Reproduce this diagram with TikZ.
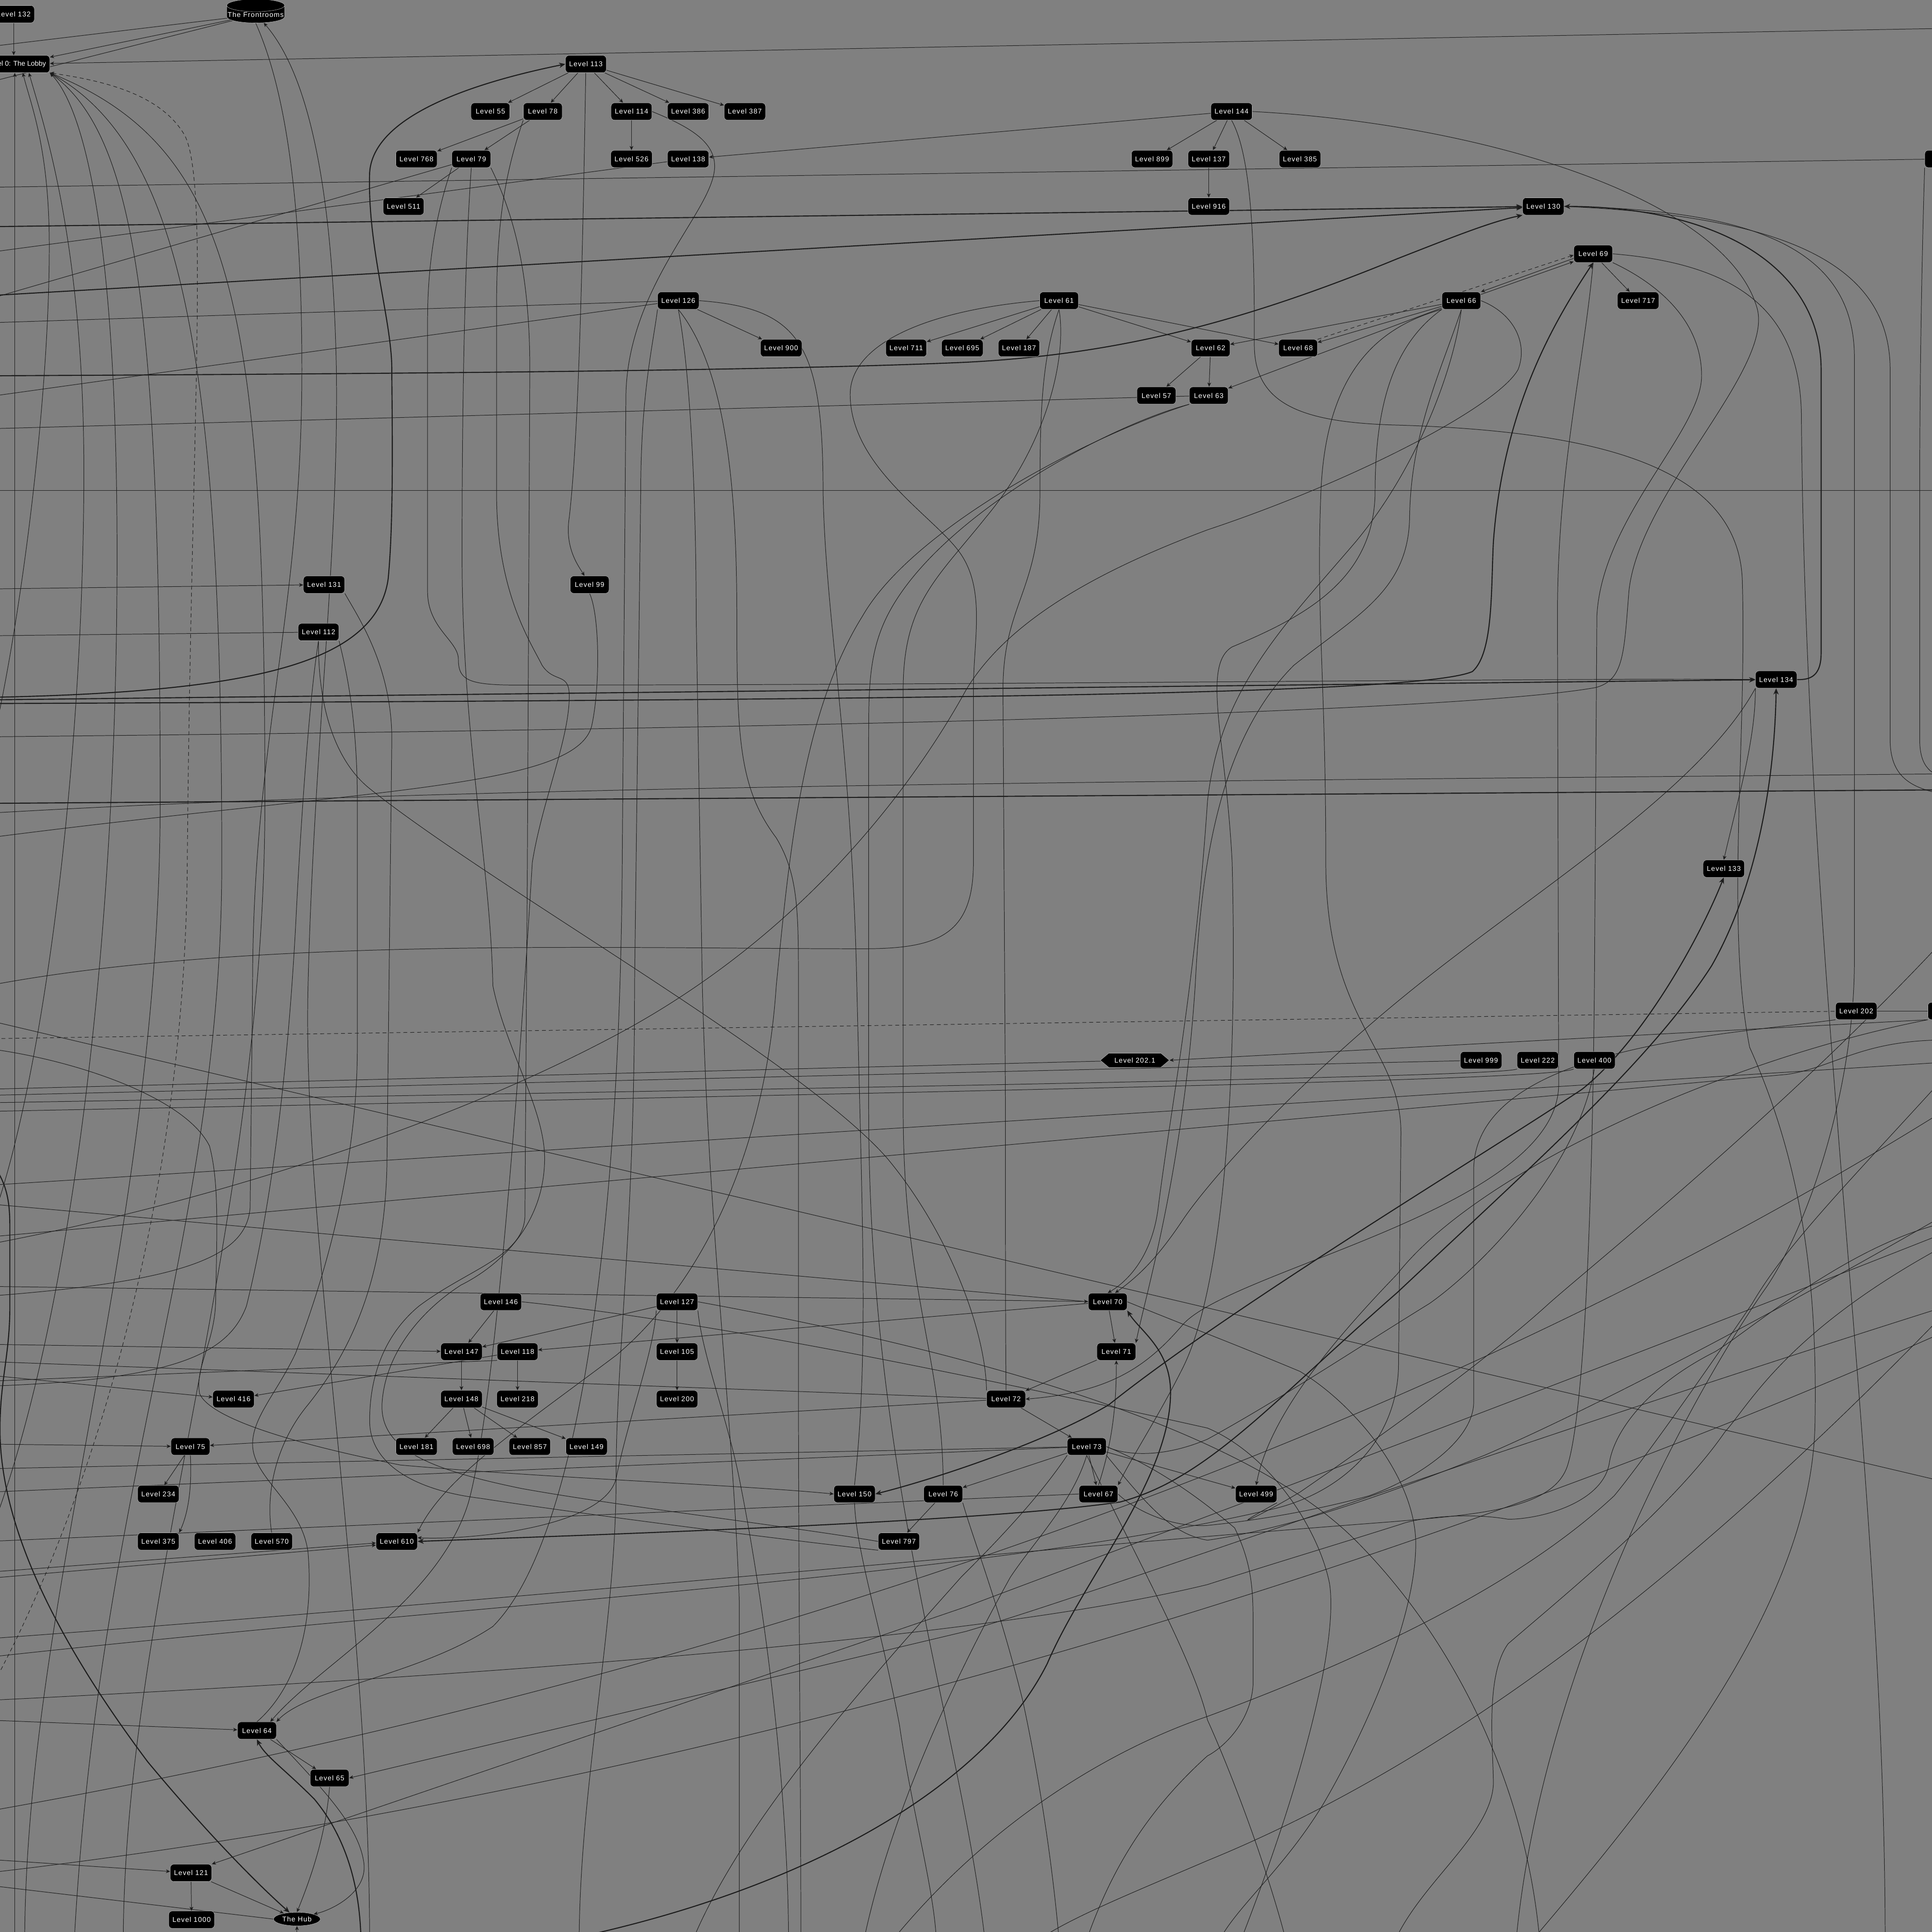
\documentclass[tikz,border=0pt]{standalone}
\usepackage{fontspec}
\setmainfont{Liberation Sans}
\newfontfamily\boxfont[LetterSpace=8]{Liberation Sans}
\usetikzlibrary{arrows.meta,shapes.geometric,shapes.symbols,backgrounds}

\definecolor{bg}{HTML}{808080}
\definecolor{rim}{HTML}{B4B4B4}
\definecolor{wire}{HTML}{1C1C1C}

\tikzset{
  lvl/.style={draw=rim, fill=black, text=white, rounded corners=2.8mm, minimum width=3.15cm, minimum height=1.4cm, inner xsep=3mm, line width=0.7pt, font=\boxfont\fontsize{16}{19}\selectfont},
  hub/.style={ellipse, draw=rim, fill=black, text=white, minimum width=3.8cm, minimum height=1.1cm, inner sep=0pt, line width=0.7pt, font=\boxfont\fontsize{16}{19}\selectfont},
  db/.style={cylinder, shape border rotate=90, aspect=0.22, draw=rim, fill=black, text=white, minimum width=4.7cm, minimum height=1.75cm, inner sep=1pt, line width=0.7pt, font=\boxfont\fontsize{16}{19}\selectfont},
  hexa/.style={signal, signal to=east and west, signal pointer angle=80, draw=rim, fill=black, text=white, minimum width=5.6cm, minimum height=1.15cm, inner sep=1pt, line width=0.7pt, font=\boxfont\fontsize{16}{19}\selectfont},
  ln/.style={draw=wire, line width=1.1pt},
  tk/.style={draw=wire, line width=2.4pt, >={Stealth[length=5mm,width=4.2mm,inset=1.5mm]}},
  dsh/.style={ln, dash pattern=on 9pt off 7pt},
}

\begin{document}
\begin{tikzpicture}[x=1mm, y=-1mm, >={Stealth[length=3.4mm,width=3mm,inset=1mm]}]
\useasboundingbox (0,0) rectangle (1568,1568);
% Nodes:
\node[lvl, anchor=east] (L132) at (28,11.5) {Level 132};
\node[db] (Fr) at (207.5,12) {The Frontrooms};
\node[lvl, anchor=east, font=\fontsize{16}{19}\selectfont] (L0) at (40.5,52) {Level 0: The Lobby};
\node[lvl] (L113) at (475.5,52) {Level 113};
\node[lvl] (L55) at (398,90.5) {Level 55};
\node[lvl] (L78) at (440.5,90.5) {Level 78};
\node[lvl] (L114) at (512.5,90.5) {Level 114};
\node[lvl] (L386) at (558.5,90.5) {Level 386};
\node[lvl] (L387) at (604.5,90.5) {Level 387};
\node[lvl] (L768) at (338,129) {Level 768};
\node[lvl] (L79) at (382.5,129) {Level 79};
\node[lvl] (L526) at (512.5,129) {Level 526};
\node[lvl] (L138) at (558.5,129) {Level 138};
\node[lvl] (L511) at (327.5,167.5) {Level 511};
\node[lvl] (L144) at (999.5,90.5) {Level 144};
\node[lvl] (L899) at (935,129) {Level 899};
\node[lvl] (L137) at (981,129) {Level 137};
\node[lvl] (L385) at (1055,129) {Level 385};
\node[lvl] (L916) at (981,167.5) {Level 916};
\node[lvl, anchor=west] (Lr1) at (1562,129) {Level};
\node[lvl] (L130) at (1252.5,167.5) {Level 130};
\node[lvl] (L69) at (1293,206) {Level 69};
\node[lvl] (L717) at (1329.5,244) {Level 717};
\node[lvl] (L66) at (1186,244) {Level 66};
\node[lvl] (L126) at (550.5,244) {Level 126};
\node[lvl] (L61) at (859.5,244) {Level 61};
\node[lvl] (L900) at (634,282.5) {Level 900};
\node[lvl] (L711) at (735.5,282.5) {Level 711};
\node[lvl] (L695) at (781,282.5) {Level 695};
\node[lvl] (L187) at (827,282.5) {Level 187};
\node[lvl] (L62) at (982.5,282.5) {Level 62};
\node[lvl] (L68) at (1053.5,282.5) {Level 68};
\node[lvl] (L57) at (938.5,321) {Level 57};
\node[lvl] (L63) at (981,321) {Level 63};
\node[lvl] (L131) at (263,474.5) {Level 131};
\node[lvl] (L99) at (478.5,474.5) {Level 99};
\node[lvl] (L112) at (258.5,513) {Level 112};
\node[lvl] (L134) at (1441.5,551.5) {Level 134};
\node[lvl] (L133) at (1399,705) {Level 133};
\node[lvl] (L202) at (1506.5,820.5) {Level 202};
\node[lvl, anchor=west] (Lr2) at (1564.5,820.5) {Level};
\node[hexa] (Lh) at (921,860.5) {Level 202.1};
\node[lvl] (L999) at (1202,860.5) {Level 999};
\node[lvl] (L222) at (1248,860.5) {Level 222};
\node[lvl] (L400) at (1294,860.5) {Level 400};
\node[lvl] (L146) at (406.5,1056.5) {Level 146};
\node[lvl] (L127) at (549.5,1056.5) {Level 127};
\node[lvl] (L70) at (899,1056.5) {Level 70};
\node[lvl] (L147) at (374.5,1097) {Level 147};
\node[lvl] (L118) at (420,1097) {Level 118};
\node[lvl] (L105) at (549.5,1097) {Level 105};
\node[lvl] (L71) at (906,1097) {Level 71};
\node[lvl] (L416) at (189.5,1135.5) {Level 416};
\node[lvl] (L148) at (374.5,1135.5) {Level 148};
\node[lvl] (L218) at (420,1135.5) {Level 218};
\node[lvl] (L200) at (549.5,1135.5) {Level 200};
\node[lvl] (L72) at (816.5,1135.5) {Level 72};
\node[lvl] (L75) at (154.5,1174) {Level 75};
\node[lvl] (L181) at (338,1174) {Level 181};
\node[lvl] (L698) at (384,1174) {Level 698};
\node[lvl] (L857) at (430,1174) {Level 857};
\node[lvl] (L149) at (476,1174) {Level 149};
\node[lvl] (L73) at (882,1174) {Level 73};
\node[lvl] (L234) at (128.5,1212.5) {Level 234};
\node[lvl] (L150) at (693.5,1212.5) {Level 150};
\node[lvl] (L76) at (765.5,1212.5) {Level 76};
\node[lvl] (L67) at (891.5,1212.5) {Level 67};
\node[lvl] (L499) at (1019.5,1212.5) {Level 499};
\node[lvl] (L375) at (128.5,1251) {Level 375};
\node[lvl] (L406) at (174.5,1251) {Level 406};
\node[lvl] (L570) at (220.5,1251) {Level 570};
\node[lvl] (L610) at (322,1251) {Level 610};
\node[lvl] (L797) at (729.5,1251) {Level 797};
\node[lvl] (L64) at (208.5,1404.5) {Level 64};
\node[lvl] (L65) at (267.5,1443) {Level 65};
\node[lvl] (L121) at (155,1520) {Level 121};
\node[lvl] (L1000) at (155.5,1558) {Level 1000};
\node[hub] (Hub) at (241,1557.5) {The Hub};
% Free ends outside the frame:
\coordinate (w38) at (-10,38);   \coordinate (w67) at (-10,67);   \coordinate (e23) at (1580,23);
\coordinate (s12) at (12,1580);  \coordinate (w620) at (-10,620); \coordinate (w1000) at (-10,1000);
\coordinate (w1250) at (-10,1250); \coordinate (s20) at (20,1580); \coordinate (s60) at (60,1580);
\coordinate (s100) at (100,1580); \coordinate (w1375) at (-10,1375); \coordinate (w566) at (-10,566);
\coordinate (w152) at (-10,152); \coordinate (w205) at (-10,205);
\coordinate (w243) at (-10,243); \coordinate (w184) at (-10,184); \coordinate (w240) at (-10,240);
\coordinate (w305) at (-10,305); \coordinate (w262) at (-10,262); \coordinate (w322) at (-10,322);
\coordinate (w348) at (-10,348); \coordinate (w398) at (-10,398); \coordinate (e398) at (1580,398);
\coordinate (w478) at (-10,478); \coordinate (w516) at (-10,516); \coordinate (w568) at (-10,568);
\coordinate (w571) at (-10,571); \coordinate (w598) at (-10,598); \coordinate (s1239) at (1239,1580);
\coordinate (s1230) at (1230,1580); \coordinate (e645) at (1580,645); \coordinate (w1330) at (-10,1330);
\coordinate (s1530) at (1530,1580); \coordinate (w800) at (-10,800); \coordinate (s800) at (800,1580);
\coordinate (w1345) at (-10,1345); \coordinate (w1010) at (-10,1010); \coordinate (w1052) at (-10,1052);
\coordinate (s470) at (470,1580); \coordinate (s600) at (600,1580); \coordinate (s650) at (650,1580);
\coordinate (w680) at (-10,680); \coordinate (s300) at (300,1580); \coordinate (w1044) at (-10,1044);
\coordinate (w1091) at (-10,1091); \coordinate (w1116) at (-10,1116); \coordinate (w1105) at (-10,1105);
\coordinate (w1174) at (-10,1172); \coordinate (s1250) at (1250,1580); \coordinate (s640) at (640,1580);
\coordinate (s430) at (430,1580); \coordinate (w1192) at (-10,1192);
\coordinate (w1211) at (-10,1211); \coordinate (s560) at (560,1580); \coordinate (s700) at (700,1580);
\coordinate (s860) at (860,1580); \coordinate (s760) at (760,1580);
\coordinate (w1251) at (-10,1251); \coordinate (w851) at (-10,851); \coordinate (w843) at (-10,843);
\coordinate (w884) at (-10,884); \coordinate (w886) at (-10,889); \coordinate (w893) at (-10,895);
\coordinate (w900) at (-10,902); \coordinate (e844) at (1580,844); \coordinate (w1004) at (-10,1004);
\coordinate (e860) at (1580,862); \coordinate (w962) at (-10,962); \coordinate (w940) at (-10,940);
\coordinate (w1276) at (-10,1276); \coordinate (w1281) at (-10,1281); \coordinate (w1396) at (-10,1396);
\coordinate (e1060) at (1580,1060); \coordinate (e1000) at (1580,1000); \coordinate (s293) at (293,1580);
\coordinate (w1509) at (-10,1509); \coordinate (w1530) at (-10,1530); \coordinate (s241) at (241,1580);
\coordinate (w1470) at (-10,1470); \coordinate (e900) at (1580,900); \coordinate (w1520) at (-10,1520);
\coordinate (e1080) at (1580,1080); \coordinate (w828) at (-10,828); \coordinate (e1203) at (1580,1203);
\coordinate (e628) at (1580,628); \coordinate (w660) at (-10,660); \coordinate (w1121) at (-10,1121);
\coordinate (w652) at (-10,652); \coordinate (e641) at (1580,641); \coordinate (e632) at (1580,632);
\coordinate (e1064) at (1580,1064); \coordinate (s835) at (835,1580); \coordinate (e1010) at (1580,1010);
\coordinate (s1130) at (1130,1580); \coordinate (e870) at (1580,872); \coordinate (s720) at (720,1580);
\coordinate (e985) at (1580,985); \coordinate (s880) at (880,1580); \coordinate (s987) at (987,1580);
\coordinate (s1003) at (1005,1580); \coordinate (s1045) at (1045,1580); \coordinate (e760) at (1580,760);
\coordinate (e990) at (1580,992); \coordinate (w1380) at (-10,1380); \coordinate (w977) at (-10,977);
\coordinate (w1125) at (-10,1125);
\begin{scope}[on background layer]
\fill[bg] (0,0) rectangle (1568,1568);
% Paths:
\draw[ln,->] (L132.south) -- (L132.south |- L0.north);
\draw[ln,->] (Fr) -- (L0);
\draw[ln] (Fr) -- (w38);
\draw[ln] (Fr) -- (w67);
\draw[ln,->] (e23) -- (L0);
\draw[ln,->] (s12) -- (s12 |- L0.south);
\draw[ln,->] (w620) .. controls (15,520) and (40,330) .. (40,200) .. controls (40,120) and (25,85) .. ([xshift=-2.2cm]L0.south east);
\draw[ln,->] (w1000) .. controls (30,900) and (66,650) .. (68,400) .. controls (70,200) and (35,100) .. ([xshift=-1.7cm]L0.south east);
\draw[ln,->] (w1250) .. controls (50,1100) and (95,800) .. (95,450) .. controls (95,200) and (70,90) .. (L0.south east);
\draw[ln,->] (s20) .. controls (20,1300) and (130,1000) .. (130,650) .. controls (130,250) and (110,110) .. (L0.south east);
\draw[ln,->] (s60) .. controls (80,1200) and (180,1000) .. (180,700) .. controls (180,300) and (150,120) .. (L0.south east);
\draw[ln,->] (s100) .. controls (100,1300) and (215,1000) .. (215,650) .. controls (215,250) and (190,120) .. (L0.south east);
\draw[dsh,->] (w1375) .. controls (60,1250) and (150,1000) .. (152,700) .. controls (155,350) and (170,150) .. (150,110) .. controls (130,75) and (80,65) .. (L0.south east);
\draw[ln] (Fr.south) .. controls (235,80) and (245,180) .. (245,300) .. controls (245,500) and (205,600) .. (205,800) -- (203,980) .. controls (200,1020) and (150,1040) .. (w1052);
\draw[ln,->] (s300) .. controls (300,1300) and (245,1000) .. (250,800) .. controls (255,600) and (275,450) .. (273,300) .. controls (270,150) and (250,60) .. (Fr.south east);
\draw[tk,->] (w566) .. controls (200,562) and (305,540) .. (315,470) .. controls (320,420) and (318,330) .. (318,300) .. controls (318,260) and (298,200) .. (300,140) .. controls (303,95) and (380,68) .. (L113.west);
\draw[ln,->] (L113) -- (L55);
\draw[ln,->] (L113) -- (L78);
\draw[ln,->] (L113) -- (L114);
\draw[ln,->] (L113) -- (L386);
\draw[ln,->] (L113) -- (L387);
\draw[ln,->] (L113) .. controls (473,200) and (470,350) .. (462,420) .. controls (458,445) and (470,460) .. (L99);
\draw[ln,->] (L78) -- (L768);
\draw[ln,->] (L78) -- (L79);
\draw[ln,->] (L79) -- (L511);
\draw[ln,->] (L114) -- (L526);
\draw[ln,->] (L144) -- (L899);
\draw[ln,->] (L144) -- (L137);
\draw[ln,->] (L144) -- (L385);
\draw[ln,->] (L137) -- (L916);
\draw[ln,->] (L144) -- (L138);
\draw[ln] (w152) -- (Lr1);
\draw[ln] (L138) -- (w205);
\draw[ln] (L79) -- (w243);
\draw[tk,->] (w184) -- (L130);
\draw[tk,->] (w240) -- (L130);
\draw[tk,->] (w305) .. controls (400,303) and (650,300) .. (784,294) .. controls (900,288) and (1000,265) .. (1134,210) .. controls (1180,192) and (1210,180) .. (L130.south west);
\draw[ln] (L126) -- (w262);
\draw[ln] (L126) -- (w322);
\draw[ln] (L63) -- (w348);
\draw[ln] (w398) -- (e398);
\draw[ln,->] (w478) -- (L131);
\draw[ln] (L112) -- (w516);
\draw[tk,->] (w568) -- (L134);
\draw[tk,->] (w571) .. controls (700,568) and (1150,565) .. (1195,545) .. controls (1212,530) and (1210,480) .. (1212,440) .. controls (1220,330) and (1262,260) .. (L69.south);
\draw[ln] (L144.east) .. controls (1200,100) and (1400,160) .. (1426,250) .. controls (1440,300) and (1330,400) .. (1322,480) .. controls (1318,530) and (1318,552) .. (1295,558) .. controls (1200,575) and (800,590) .. (w598);
\draw[ln] (L144.south) .. controls (1018,130) and (1018,220) .. (1018,280) .. controls (1018,330) and (1060,343) .. (1134,345) .. controls (1300,350) and (1410,380) .. (1414,470) .. controls (1418,600) and (1400,750) .. (1420,850) .. controls (1465,950) and (1475,1050) .. (1473,1156) .. controls (1470,1300) and (1350,1450) .. (s1239);
\draw[tk,<-] (L130.east) .. controls (1400,168) and (1478,220) .. (1478,300) -- (1478,530) .. controls (1478,548) and (1470,552) .. (L134.east);
\draw[ln] (L130.east) .. controls (1420,170) and (1505,200) .. (1505,290) -- (1505,780) .. controls (1505,880) and (1470,990) .. (1434,1044) .. controls (1380,1120) and (1250,1350) .. (s1230);
\draw[ln] (L130.east) .. controls (1440,175) and (1534,210) .. (1534,300) -- (1534,600) .. controls (1534,630) and (1550,640) .. (e645);
\draw[ln] (Lr1.south west) .. controls (1560,200) and (1558,300) .. (1558,400) -- (1558,600) .. controls (1558,620) and (1565,628) .. (e632);
\draw[ln,->] (L69) -- (L717);
\draw[ln,->] ([yshift=-0.37cm]L69.west) -- (L66.north east);
\draw[ln,->] ([yshift=0.5cm]L66.east) -- ([yshift=-0.63cm]L69.west);
\draw[dsh,->] (L68.north east) -- ([yshift=-0.1cm]L69.west);
\draw[ln] (L69.south east) .. controls (1345,230) and (1381,260) .. (1381,305) .. controls (1381,350) and (1300,420) .. (1296,500) -- (1294,800) .. controls (1292,1000) and (1285,1150) .. (1272,1190) .. controls (1260,1225) and (1200,1229) .. (1130,1235) .. controls (800,1260) and (400,1300) .. (w1330);
\draw[ln,->] (L69.south) .. controls (1285,300) and (1264,380) .. (1264,500) -- (1265,880) .. controls (1265,980) and (1000,1030) .. (960,1075) .. controls (930,1110) and (900,1130) .. (L72.east);
\draw[ln] (L69.east) .. controls (1420,215) and (1462,260) .. (1462,340) .. controls (1466,800) and (1530,1200) .. (s1530);
\draw[ln,->] (L61) -- (L711);
\draw[ln,->] (L61) -- (L695);
\draw[ln,->] (L61) -- (L187);
\draw[ln,->] (L61) -- (L62);
\draw[ln,->] (L61) -- (L68);
\draw[ln,->] (L62) -- (L57);
\draw[ln,->] (L62) -- (L63);
\draw[ln,->] (L66) -- (L62);
\draw[ln,->] (L66) -- (L68);
\draw[ln,->] (L66) -- (L63);
\draw[ln,->] (L126) -- (L900);
\draw[ln] (L61.south) .. controls (846,290) and (844,330) .. (844,400) .. controls (844,480) and (814,490) .. (814,560) -- (816,900) .. controls (816,1000) and (816,1080) .. (L72.north);
\draw[ln] (L61.south) .. controls (866,290) and (850,360) .. (800,420) .. controls (760,470) and (733,490) .. (733,560) -- (733,900) .. controls (733,1050) and (765,1100) .. (L76.north);
\draw[ln] (L61.west) .. controls (750,252) and (690,280) .. (690,320) .. controls (690,380) and (760,420) .. (780,450) .. controls (800,480) and (790,520) .. (790,560) -- (790,700) .. controls (790,760) and (760,770) .. (700,770) .. controls (500,770) and (200,760) .. (w800);
\draw[ln] (L63.south west) .. controls (900,345) and (760,420) .. (720,500) .. controls (705,530) and (705,560) .. (705,600) -- (705,900) .. controls (705,1200) and (780,1400) .. (s800);
\draw[ln,->] (L63.south west) .. controls (880,355) and (740,430) .. (700,500) .. controls (650,580) and (640,700) .. (630,800) .. controls (620,950) and (560,1050) .. (500,1100) .. controls (420,1160) and (360,1200) .. (L610.north east);
\draw[ln,->] (L66.south) .. controls (1180,300) and (1150,380) .. (1100,440) .. controls (1040,510) and (990,560) .. (980,650) .. controls (970,800) and (950,900) .. (940,980) .. controls (935,1020) and (915,1040) .. (L70.north);
\draw[ln,->] (L66.south) .. controls (1170,300) and (1145,350) .. (1144,420) .. controls (1143,480) and (1100,500) .. (1050,540) .. controls (990,600) and (975,700) .. (970,800) .. controls (960,950) and (930,1050) .. (L71.north east);
\draw[ln,->] (L66.south west) .. controls (1130,280) and (1116,330) .. (1116,400) .. controls (1115,470) and (1060,500) .. (1000,525) .. controls (975,540) and (995,600) .. (1000,700) .. controls (1005,900) and (990,1050) .. (960,1110) .. controls (940,1150) and (920,1180) .. (L67.north east);
\draw[ln] (L66.south west) .. controls (1120,265) and (1076,300) .. (1072,400) .. controls (1068,500) and (1076,550) .. (1076,700) .. controls (1076,830) and (1137,850) .. (1137,920) -- (1135,1110) .. controls (1133,1170) and (1090,1210) .. (1036,1224) .. controls (800,1280) and (400,1300) .. (w1345);
\draw[ln] (L66.east) .. controls (1230,255) and (1240,280) .. (1232,300) .. controls (1215,330) and (1100,390) .. (980,430) .. controls (900,460) and (820,500) .. (784,560) .. controls (740,640) and (650,760) .. (500,840) .. controls (350,920) and (150,980) .. (w1010);
\draw[ln,->] (L114.east) .. controls (560,103) and (580,115) .. (580,135) .. controls (580,170) and (510,230) .. (508,320) -- (505,700) .. controls (503,1000) and (470,1250) .. (400,1320) .. controls (340,1360) and (250,1370) .. (L64.north east);
\draw[ln,->] (L79.south west) .. controls (355,170) and (347,210) .. (347,260) -- (347,480) .. controls (347,510) and (372,520) .. (372,535) .. controls (372,552) and (380,556) .. (420,556) .. controls (800,556) and (1300,550) .. (L134.west);
\draw[ln] (L79.south) .. controls (378,200) and (375,300) .. (375,450) .. controls (375,600) and (398,700) .. (400,800) .. controls (410,850) and (442,900) .. (442,940) .. controls (442,990) and (410,1025) .. (374,1043) .. controls (340,1065) and (312,1100) .. (310,1140) .. controls (309,1175) and (345,1192) .. (423,1208) .. controls (500,1222) and (650,1240) .. (L797.west);
\draw[ln] (L79.south east) .. controls (420,180) and (430,230) .. (430,300) -- (428,700) -- (426,988) .. controls (424,1020) and (380,1030) .. (340,1060) .. controls (310,1085) and (300,1120) .. (300,1153) .. controls (300,1190) and (340,1210) .. (390,1216) .. controls (480,1230) and (640,1250) .. (L797.south west);
\draw[ln,->] (L78.south west) .. controls (410,140) and (403,180) .. (403,250) -- (403,400) .. controls (403,480) and (430,520) .. (440,540) .. controls (450,555) and (462,545) .. (462,565) .. controls (462,600) and (440,650) .. (432,700) .. controls (420,900) and (400,1150) .. (380,1220) .. controls (355,1300) and (260,1350) .. ([xshift=-0.5cm]L64.north east);
\draw[ln] (L126.south west) .. controls (530,280) and (520,320) .. (520,400) -- (515,800) .. controls (515,1000) and (500,1100) .. (500,1200) .. controls (500,1320) and (470,1450) .. (s470);
\draw[ln] (L126.south) .. controls (560,300) and (565,400) .. (565,500) -- (570,800) .. controls (575,1000) and (595,1150) .. (600,1300) -- (s600);
\draw[ln] (L126.south) .. controls (590,300) and (598,400) .. (598,500) .. controls (598,600) and (600,640) .. (630,680) .. controls (648,710) and (648,740) .. (648,800) -- (648,1100) .. controls (648,1300) and (650,1450) .. (s650);
\draw[ln] (L126.east) .. controls (650,250) and (668,280) .. (668,400) .. controls (670,500) and (690,600) .. (695,784) .. controls (700,1000) and (705,1100) .. (L150.north);
\draw[ln] (L99.south) .. controls (487,500) and (487,560) .. (480,590) .. controls (465,640) and (300,640) .. (w680);
\draw[ln] (L131.south east) .. controls (290,500) and (318,540) .. (318,600) -- (314,947) .. controls (312,1030) and (290,1090) .. (250,1140) .. controls (225,1170) and (215,1210) .. (L570.north);
\draw[ln] (L112.south) .. controls (252,560) and (245,650) .. (240,750) .. controls (232,900) and (215,1000) .. (200,1060) .. controls (185,1100) and (140,1120) .. (w1125);
\draw[ln] (L112.south east) .. controls (280,540) and (290,580) .. (290,650) -- (290,850) .. controls (290,950) and (262,1040) .. (240,1098) .. controls (225,1130) and (205,1150) .. (205,1172) .. controls (205,1200) and (245,1220) .. (250,1260) .. controls (255,1320) and (240,1370) .. (L64.north);
\draw[ln] (L112.south) .. controls (258,580) and (275,620) .. (300,640) .. controls (400,720) and (650,860) .. (720,940) .. controls (770,1000) and (800,1080) .. (L72.north west);
\draw[tk] (w652) -- (e641);
\draw[ln] (e628) .. controls (1000,634) and (400,636) .. (w660);
\draw[ln,->] (w1044) -- (L70);
\draw[ln] (L70.west) -- (w977);
\draw[ln,->] (L70) -- (L118);
\draw[ln,->] (w1091) -- (L147);
\draw[ln,->] (L127) -- (L147);
\draw[ln,->] (L146) -- (L147);
\draw[ln,->] (L147) -- (L148);
\draw[ln,->] (L118) -- (L218);
\draw[ln,->] (L118) -- (L416);
\draw[ln] (L118.south west) -- (w1121);
\draw[ln,->] (L127) -- (L105);
\draw[ln,->] (L105) -- (L200);
\draw[ln,->] (w1116) -- (L416);
\draw[ln,->] (L148) -- (L181);
\draw[ln,->] (L148) -- (L698);
\draw[ln,->] (L148) -- (L857);
\draw[ln,->] (L148) -- (L149);
\draw[ln,->] (L72) -- (L75);
\draw[ln] (L72) -- (w1105);
\draw[ln,->] (w1174) -- (L75);
\draw[ln,->] (L75) -- (L234);
\draw[ln,->] (L75.south) .. controls (156,1210) and (152,1230) .. (L375.north east);
\draw[ln] (L127.east) .. controls (750,1090) and (1000,1150) .. (1100,1250) .. controls (1180,1330) and (1240,1450) .. (s1250);
\draw[ln,->] (L127.south west) .. controls (530,1100) and (510,1150) .. (500,1200) .. controls (490,1240) and (380,1250) .. ([yshift=0.3cm]L610.east);
\draw[ln] (L127.south east) .. controls (570,1100) and (590,1150) .. (600,1200) .. controls (620,1300) and (640,1450) .. (s640);
\draw[tk,->] (s430) .. controls (650,1540) and (800,1450) .. (850,1350) .. controls (880,1280) and (950,1200) .. (950,1130) .. controls (950,1095) and (925,1080) .. (L70.south east);
\draw[ln,->] (L70) -- (L71);
\draw[ln,->] (L71) -- (L72);
\draw[ln,->] (L72) -- (L73);
\draw[ln,->] (L73) -- (L67);
\draw[ln,->] (L73) -- (L76);
\draw[ln,->] (L73) -- (L499);
\draw[ln,->] (L76) -- (L797);
\draw[ln,->] (L67.north) .. controls (903,1170) and (906,1140) .. (L71.south);
\draw[ln] (L70.east) .. controls (960,1075) and (1000,1090) .. (1055,1113) .. controls (1100,1140) and (1149,1200) .. (1149,1253) .. controls (1149,1320) and (1100,1420) .. (1074,1464) .. controls (1040,1520) and (1000,1550) .. (s987);
\draw[ln] (L146.east) .. controls (600,1075) and (850,1130) .. (980,1159) .. controls (1030,1180) and (1070,1240) .. (1079,1285) .. controls (1086,1330) and (1060,1440) .. (s1003);
\draw[ln] (L73) -- (w1192);
\draw[ln] (L73) -- (w1211);
\draw[ln] (L73.south west) .. controls (840,1220) and (800,1260) .. (780,1280) .. controls (700,1370) and (600,1480) .. (s560);
\draw[ln] (L73.south) .. controls (870,1220) and (840,1250) .. (820,1280) .. controls (770,1370) and (720,1480) .. (s700);
\draw[ln] (L73.east) .. controls (950,1195) and (990,1230) .. (1002,1240) .. controls (1016,1269) and (1017,1290) .. (1017,1318) -- (1017,1367) .. controls (1015,1400) and (990,1420) .. (980,1425) .. controls (930,1470) and (900,1520) .. (s880);
\draw[ln] (L73.south) .. controls (920,1260) and (970,1350) .. (980,1396) .. controls (1000,1440) and (1030,1520) .. (s1045);
\draw[ln] (L73.south east) .. controls (930,1220) and (950,1245) .. (980,1250) .. controls (1050,1240) and (1130,1211) .. (1205,1181) .. controls (1300,1140) and (1450,1060) .. (e985);
\draw[ln] (L76.south east) .. controls (790,1250) and (810,1300) .. (830,1380) .. controls (845,1450) and (855,1520) .. (s860);
\draw[ln] (L150.south) .. controls (695,1260) and (715,1320) .. (730,1400) .. controls (740,1470) and (760,1540) .. (s760);
\draw[ln] (L67.west) -- (w1251);
\draw[ln,->] (w851) .. controls (60,860) and (150,890) .. (170,930) .. controls (178,960) and (176,1000) .. (175,1057) .. controls (174,1090) and (158,1110) .. (162,1131) .. controls (170,1150) and (230,1170) .. (325,1189) .. controls (450,1200) and (600,1205) .. (L150.west);
\draw[tk,<->] (L133.south) .. controls (1380,760) and (1334,844) .. (1284,884) .. controls (1200,940) and (1000,1060) .. (900,1140) .. controls (850,1170) and (760,1200) .. (L150.east);
\draw[tk,<->] (L134.south) .. controls (1440,650) and (1420,730) .. (1389,784) .. controls (1340,860) and (1250,940) .. (1134,1049) .. controls (1030,1140) and (980,1200) .. (909,1219) .. controls (800,1235) and (500,1245) .. (L610.east);
\draw[ln,->] (L134.south west) .. controls (1425,600) and (1410,650) .. (L133.north);
\draw[ln,->] (L134.south west) .. controls (1380,640) and (1250,720) .. (1150,800) .. controls (1050,880) and (980,960) .. (960,990) .. controls (940,1020) and (925,1035) .. ([xshift=0.6cm]L70.north);
\draw[ln] (w828) -- (e1203);
\draw[ln] (L202) -- (Lr2);
\draw[dsh] (w843) -- (L202);
\draw[ln,->] (Lr2.south west) -- (Lh.east);
\draw[ln,->] (Lr2.south west) .. controls (1400,860) and (1200,950) .. (1134,1034) .. controls (1080,1090) and (1030,1150) .. (L499.north);
\draw[ln] (L202.south west) .. controls (1400,840) and (1196,850) .. (1196,950) -- (1196,1139) .. controls (1195,1170) and (1150,1200) .. (1111,1214) .. controls (1060,1228) and (1010,1235) .. (980,1238) .. controls (950,1240) and (920,1225) .. (L67.east);
\draw[ln] (L400.south) .. controls (1280,950) and (1200,1030) .. (1160,1058) .. controls (1100,1095) and (1040,1135) .. (980,1168) .. controls (940,1185) and (910,1180) .. (L73.east);
\draw[ln] (Lh) -- (w884);
\draw[ln] (L999) -- (w886);
\draw[ln] (L222.south west) .. controls (1220,872) and (1000,878) .. (w893);
\draw[ln] (L400.south west) .. controls (1260,875) and (1000,882) .. (w900);
\draw[ln] (e844) .. controls (1510,844) and (1490,866) .. (1450,872) -- (w1004);
\draw[ln] (e860) -- (w962);
\draw[ln] (e1064) .. controls (1400,1250) and (1200,1420) .. (980,1510) .. controls (910,1540) and (860,1560) .. (s835);
\draw[ln] (e1010) .. controls (1450,1080) and (1420,1140) .. (1400,1162) .. controls (1360,1220) and (1280,1286) .. (1224,1334) .. controls (1205,1360) and (1212,1420) .. (1212,1448) .. controls (1210,1490) and (1150,1530) .. (s1130);
\draw[ln] (e870) .. controls (1500,960) and (1450,1010) .. (1422,1058) .. controls (1380,1120) and (1330,1190) .. (1310,1214) .. controls (1250,1270) and (1150,1330) .. (980,1393) .. controls (900,1420) and (800,1480) .. (s720);
\draw[ln] (e760) .. controls (1450,900) and (1300,1020) .. (1257,1058) .. controls (1200,1110) and (1100,1180) .. (1055,1211) .. controls (1020,1232) and (990,1245) .. (L499.south east);
\draw[ln] (e990) .. controls (1500,1010) and (1420,1080) .. (1392,1097) .. controls (1340,1123) and (1310,1160) .. (1306,1188) .. controls (1300,1220) and (1250,1233) .. (1224,1233) .. controls (1190,1227) and (1150,1232) .. (1137,1237) .. controls (1080,1255) and (1030,1270) .. (980,1286) .. controls (800,1330) and (400,1360) .. (w1380);
\draw[tk,->] (w940) .. controls (8,960) and (8,980) .. (8,1000) -- (8,1060) .. controls (8,1100) and (0,1120) .. (0,1160) .. controls (0,1250) and (60,1350) .. (120,1430) .. controls (170,1490) and (210,1530) .. (Hub);
\draw[ln,->] (w1276) -- (L610);
\draw[ln,->] (w1281) -- ([yshift=-0.3cm]L610.west);
\draw[ln,->] (w1396) -- (L64);
\draw[ln,->] (L64) -- (L65);
\draw[ln,->] (e1060) .. controls (1200,1180) and (900,1290) .. (784,1324) -- (L65.east);
\draw[ln,->] (e1000) .. controls (1200,1150) and (900,1260) .. (784,1304) -- (L121.north east);
\draw[tk,->] (s293) .. controls (293,1530) and (280,1490) .. (255,1460) .. controls (230,1435) and (215,1425) .. (L64.south);
\draw[ln,->] (L64.south east) .. controls (260,1450) and (290,1480) .. (295,1510) .. controls (300,1535) and (270,1550) .. (Hub.north east);
\draw[ln,->] (L65.south) .. controls (265,1480) and (258,1510) .. (Hub.north);
\draw[ln,->] (L121) -- (L1000);
\draw[ln,->] (L121) -- (Hub);
\draw[ln,->] (w1509) -- (L121);
\draw[ln] (w1530) -- (Hub.west);
\draw[ln,->] (s241) -- (Hub);
\draw[ln] (w1470) .. controls (500,1380) and (1100,1200) .. (e900);
\draw[ln] (w1520) .. controls (600,1450) and (1200,1250) .. (e1080);
\end{scope}
\end{tikzpicture}
\end{document}
